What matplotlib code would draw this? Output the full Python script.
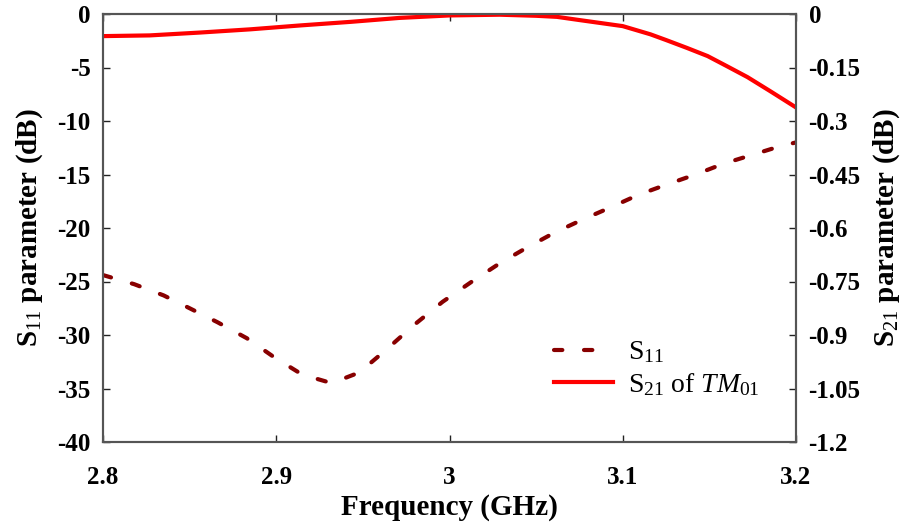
import numpy as np
import matplotlib
matplotlib.use("Agg")
import matplotlib.pyplot as plt

plt.rcParams['font.family'] = 'Liberation Serif'
plt.rcParams['mathtext.fontset'] = 'custom'
plt.rcParams['mathtext.rm'] = 'Liberation Serif'
plt.rcParams['mathtext.it'] = 'Liberation Serif:italic'
plt.rcParams['mathtext.bf'] = 'Liberation Serif:bold'
plt.rcParams['axes.unicode_minus'] = False

# S11 (left axis, dB)
s11_freq = [2.800, 2.818, 2.835, 2.850, 2.866, 2.883, 2.899, 2.915, 2.932, 2.948,
            2.964, 2.980, 2.996, 3.013, 3.029, 3.045, 3.061, 3.077, 3.094, 3.109,
            3.126, 3.142, 3.158, 3.174, 3.190, 3.200]
s11_db = [-24.4, -25.25, -26.3, -27.5, -28.8, -30.3, -32.1, -33.7, -34.5, -33.5,
          -31.3, -29.0, -26.9, -25.0, -23.3, -21.8, -20.4, -19.2, -18.0, -16.9,
          -15.9, -15.0, -14.0, -13.2, -12.4, -12.0]

# S21 of TM01 (right axis, dB)
s21_freq = [2.800, 2.827, 2.856, 2.885, 2.914, 2.943, 2.971, 3.000, 3.029, 3.050,
            3.062, 3.075, 3.100, 3.116, 3.125, 3.137, 3.149, 3.160, 3.172, 3.185,
            3.200]
s21_db = [-0.062, -0.060, -0.052, -0.043, -0.032, -0.022, -0.011, -0.004, -0.002,
          -0.005, -0.008, -0.017, -0.034, -0.057, -0.073, -0.095, -0.118, -0.146,
          -0.177, -0.216, -0.262]

xticks = [2.8, 2.9, 3.0, 3.1, 3.2]
xtick_labels = ['2.8', '2.9', '3', '3.1', '3.2']
left_ticks = [0, -5, -10, -15, -20, -25, -30, -35, -40]
right_ticks = [0, -0.15, -0.3, -0.45, -0.6, -0.75, -0.9, -1.05, -1.2]
right_labels = ['0', '-0.15', '-0.3', '-0.45', '-0.6', '-0.75', '-0.9', '-1.05', '-1.2']

fig = plt.figure(figsize=(9.08, 5.28), dpi=100)
ax = fig.add_axes([103 / 908, 1 - 442 / 528, 693 / 908, 428 / 528])
ax2 = ax.twinx()

l1, = ax.plot(s11_freq, s11_db, color='#880000', lw=3, dashes=(2.0, 5.2),
              dash_capstyle='round', label='S$_{11}$')
l2, = ax2.plot(s21_freq, s21_db, color='#ff0000', lw=3, label='S$_{21}$ of $TM_{01}$')

ax.set_xlim(2.8, 3.2)
ax.set_ylim(-40, 0)
ax2.set_ylim(-1.2, 0)

ax.set_xticks(xticks)
ax.set_xticklabels(xtick_labels)
ax.set_yticks(left_ticks)
ax.set_yticklabels([str(t) for t in left_ticks])
ax2.set_yticks(right_ticks)
ax2.set_yticklabels(right_labels)

spine_col = '#555555'
for a in (ax, ax2):
    for s in a.spines.values():
        s.set_color(spine_col)
        s.set_linewidth(1.5)

ax.tick_params(axis='x', which='both', direction='in', top=True, length=5,
               width=1, color='#222222', pad=17, labelsize=18)
ax.tick_params(axis='y', direction='in', right=False, length=5, width=1,
               color='#222222', pad=9, labelsize=18)
ax2.tick_params(axis='y', direction='in', length=5, width=1, color='#222222',
                pad=9, labelsize=18)
for lab in ax.get_xticklabels() + ax.get_yticklabels() + ax2.get_yticklabels():
    lab.set_fontweight('bold')

ax.set_xlabel('Frequency (GHz)', fontsize=21, fontweight='bold', labelpad=4)
ax.set_ylabel('S$_{11}$ parameter (dB)', fontsize=21, fontweight='bold', labelpad=9)
ax2.set_ylabel('S$_{21}$ parameter (dB)', fontsize=21, fontweight='bold', labelpad=8)

ax.legend(handles=[l1, l2], loc='lower left', bbox_to_anchor=(0.615, 0.045),
          frameon=False, fontsize=20, handlelength=2.1, handletextpad=0.55,
          labelspacing=0.2)

fig.savefig('out.png', dpi=100)
